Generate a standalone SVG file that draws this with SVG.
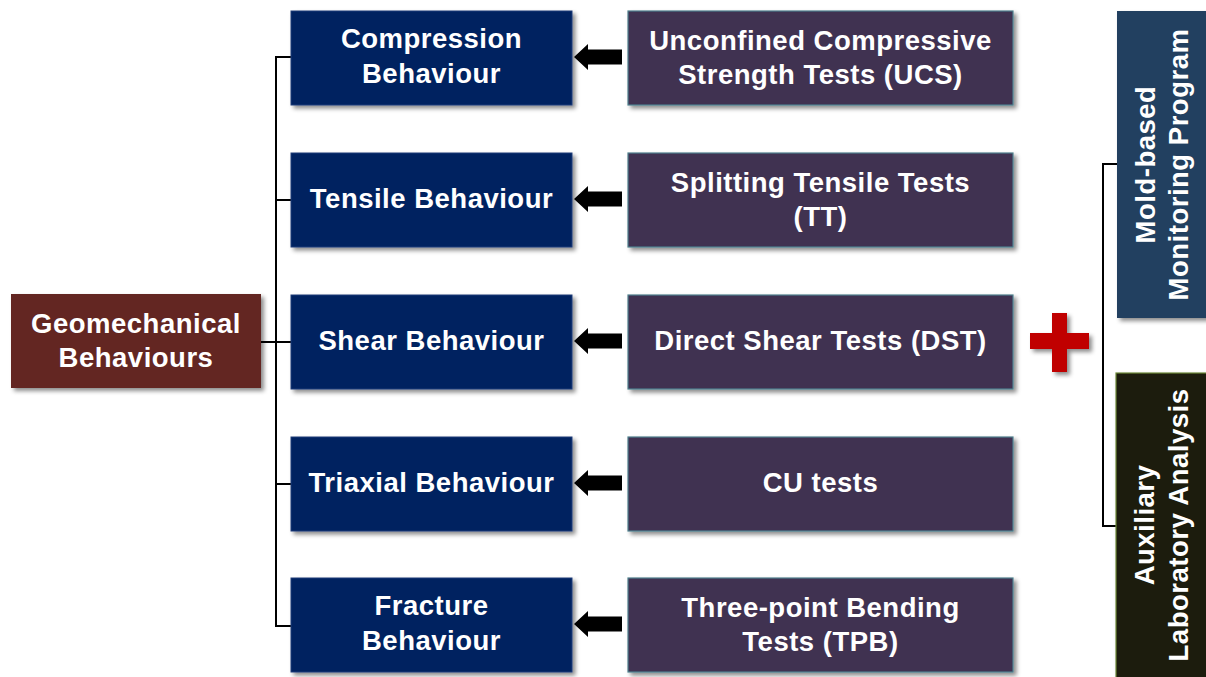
<svg xmlns="http://www.w3.org/2000/svg" width="1206" height="677" viewBox="0 0 1206 677">
  <defs>
    <filter id="sh" x="-10%" y="-10%" width="125%" height="130%">
      <feDropShadow dx="3" dy="3" stdDeviation="2.2" flood-color="#000" flood-opacity="0.45"/>
    </filter>
    <style>
      .t { font-family: "Liberation Sans", Arial, sans-serif; font-weight: bold; font-size: 27.5px; letter-spacing: 0.5px; fill: #ffffff; text-anchor: middle; }
      .root { fill: #632523; }
      .beh { fill: #002060; stroke: #1f3c78; stroke-width: 1; }
      .test { fill: #403151; stroke: #4e7f8c; stroke-width: 1.2; }
      .mold { fill: #243f60; }
      .aux { fill: #1d1b10; stroke: #6f8a3a; stroke-width: 1.2; }
      .ln { fill: none; stroke: #000; stroke-width: 2; }
      .arr { fill: #000; }
    </style>
  </defs>
  <rect width="1206" height="677" fill="#ffffff"/>

  <g id="connectors">
    <path class="ln" d="M261,342 H276 M291,57 H276 V626 H291 M276,200 H291 M276,342 H291 M276,484 H291"/>
    <path class="ln" d="M1117,164 H1103 V526 H1117"/>
    <polygon class="arr" points="574,57 588,44 588,49.5 622,49.5 622,64.5 588,64.5 588,70"/>
    <polygon class="arr" points="574,199 588,186 588,191.5 622,191.5 622,206.5 588,206.5 588,212"/>
    <polygon class="arr" points="574,341 588,328 588,333.5 622,333.5 622,348.5 588,348.5 588,354"/>
    <polygon class="arr" points="574,483 588,470 588,475.5 622,475.5 622,490.5 588,490.5 588,496"/>
    <polygon class="arr" points="574,624 588,611 588,616.5 622,616.5 622,631.5 588,631.5 588,637"/>
  </g>

  <g id="root">
    <rect class="root" x="11" y="294" width="250" height="94" filter="url(#sh)"/>
    <text class="t" x="136" y="333">Geomechanical</text>
    <text class="t" x="136" y="367">Behaviours</text>
  </g>

  <g id="compression">
    <rect class="beh" x="291" y="11" width="281" height="94" filter="url(#sh)"/>
    <text class="t" x="431.5" y="48">Compression</text>
    <text class="t" x="431.5" y="83">Behaviour</text>
  </g>
  <g id="tensile">
    <rect class="beh" x="291" y="153" width="281" height="94" filter="url(#sh)"/>
    <text class="t" x="431.5" y="208">Tensile Behaviour</text>
  </g>
  <g id="shear">
    <rect class="beh" x="291" y="295" width="281" height="94" filter="url(#sh)"/>
    <text class="t" x="431.5" y="350">Shear Behaviour</text>
  </g>
  <g id="triaxial">
    <rect class="beh" x="291" y="437" width="281" height="94" filter="url(#sh)"/>
    <text class="t" x="431.5" y="492">Triaxial Behaviour</text>
  </g>
  <g id="fracture">
    <rect class="beh" x="291" y="578" width="281" height="94" filter="url(#sh)"/>
    <text class="t" x="431.5" y="615">Fracture</text>
    <text class="t" x="431.5" y="650">Behaviour</text>
  </g>

  <g id="ucs">
    <rect class="test" x="628" y="11" width="385" height="94" filter="url(#sh)"/>
    <text class="t" x="820.5" y="50">Unconfined Compressive</text>
    <text class="t" x="820.5" y="84">Strength Tests (UCS)</text>
  </g>
  <g id="tt">
    <rect class="test" x="628" y="153" width="385" height="94" filter="url(#sh)"/>
    <text class="t" x="820.5" y="192">Splitting Tensile Tests</text>
    <text class="t" x="820.5" y="226">(TT)</text>
  </g>
  <g id="dst">
    <rect class="test" x="628" y="295" width="385" height="94" filter="url(#sh)"/>
    <text class="t" x="820.5" y="350">Direct Shear Tests (DST)</text>
  </g>
  <g id="cu">
    <rect class="test" x="628" y="437" width="385" height="94" filter="url(#sh)"/>
    <text class="t" x="820.5" y="492">CU tests</text>
  </g>
  <g id="tpb">
    <rect class="test" x="628" y="578" width="385" height="94" filter="url(#sh)"/>
    <text class="t" x="820.5" y="617">Three-point Bending</text>
    <text class="t" x="820.5" y="651">Tests (TPB)</text>
  </g>

  <g id="plus" filter="url(#sh)">
    <path fill="#c00000" d="M1052,313 H1067 V333 H1089 V349 H1067 V372 H1052 V349 H1030 V333 H1052 Z"/>
  </g>

  <g id="mold">
    <rect class="mold" x="1117" y="11" width="95" height="307" filter="url(#sh)"/>
    <text class="t" transform="rotate(-90)" x="-164.5" y="1155">Mold-based</text>
    <text class="t" transform="rotate(-90)" x="-164.5" y="1188">Monitoring Program</text>
  </g>
  <g id="aux">
    <rect class="aux" x="1116" y="373" width="96" height="310" filter="url(#sh)"/>
    <text class="t" transform="rotate(-90)" x="-525" y="1154">Auxiliary</text>
    <text class="t" transform="rotate(-90)" x="-525" y="1188">Laboratory Analysis</text>
  </g>
</svg>
